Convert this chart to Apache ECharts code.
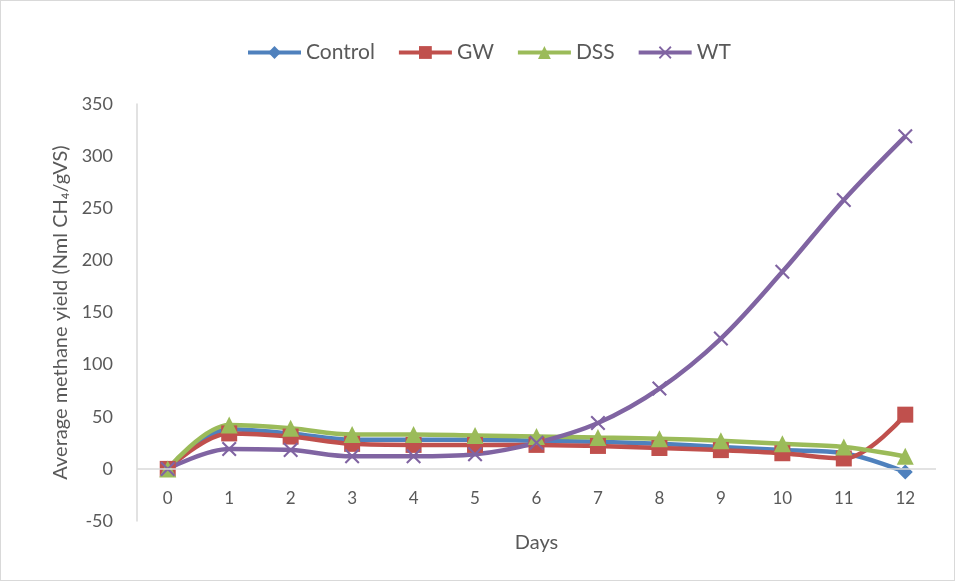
<!DOCTYPE html>
<html>
<head>
<meta charset="utf-8">
<script src="https://cdn.jsdelivr.net/npm/echarts@6/dist/echarts.min.js"></script>
<style>
  html, body { margin: 0; padding: 0; background: #fff; }
  #chart { width: 953px; height: 579px; border: 1px solid #d9d9d9; }
</style>
</head>
<body>
<div id="chart"></div>
<script>
// days on the x axis
const days = ['0', '1', '2', '3', '4', '5', '6', '7', '8', '9', '10', '11', '12'];

// average methane yield per treatment (Nml CH4/gVS)
const control = [0, 38, 34, 28, 28, 28, 27, 26, 24, 21, 18, 15, -3];
const gw      = [0, 34, 31, 24, 23, 23, 23, 22, 20, 18, 15, 10, 52];
const dss     = [0, 42, 39, 33, 33, 32, 31, 30, 29, 27, 24, 21, 12];
const wt      = [0, 19, 18, 12, 12, 14, 25, 44, 77, 125, 189, 258, 319];

const FONT = 'Lato';
const TXT = '#595959';
const AXIS = '#d9d9d9';
const CROSS = 'path://M0,1 L1,0 L5,4 L9,0 L10,1 L6,5 L10,9 L9,10 L5,6 L1,10 L0,9 L4,5 Z';

function line(name, data, color, symbol, size) {
  return {
    name: name,
    type: 'line',
    data: data,
    smooth: 0.35,
    symbol: symbol,
    symbolSize: size,
    showAllSymbol: true,
    lineStyle: { color: color, width: 4.5 },
    itemStyle: { color: color },
    z: 3
  };
}

const chart = echarts.init(document.getElementById('chart'));
chart.setOption({
  animation: false,
  textStyle: { fontFamily: FONT },
  legend: {
    top: 36,
    left: 240,
    itemWidth: 53,
    itemHeight: 16,
    itemGap: 22,
    lineStyle: { width: 4 },
    textStyle: { fontSize: 21, color: TXT, fontFamily: FONT },
    data: ['Control', 'GW', 'DSS', 'WT']
  },
  grid: { left: 136, right: 18, top: 103, bottom: 59, outerBoundsMode: 'none' },
  xAxis: {
    type: 'category',
    data: days,
    boundaryGap: true,
    name: 'Days',
    nameLocation: 'middle',
    nameGap: 12,
    nameTextStyle: { fontSize: 20, color: TXT },
    axisLine: { show: false, onZero: false },
    axisTick: { show: false },
    axisLabel: { fontSize: 17, color: TXT, margin: -31 }
  },
  yAxis: {
    type: 'value',
    min: -50,
    max: 350,
    interval: 50,
    name: 'Average methane yield (Nml CH\u2084/gVS)',
    nameLocation: 'middle',
    nameGap: 64,
    nameTextStyle: { fontSize: 20, color: TXT },
    axisLine: { show: true, lineStyle: { color: AXIS, width: 1.5 } },
    axisTick: { show: false },
    splitLine: { show: false },
    axisLabel: { fontSize: 18, color: TXT, margin: 24 }
  },
  series: [
    {
      // horizontal axis line drawn through zero
      type: 'line',
      data: [],
      z: 1,
      markLine: {
        silent: true,
        symbol: 'none',
        label: { show: false },
        lineStyle: { color: AXIS, width: 1.5, type: 'solid' },
        data: [{ yAxis: 0 }]
      }
    },
    line('Control', control, '#4F81BD', 'diamond', 15),
    line('GW', gw, '#C0504D', 'rect', 16),
    line('DSS', dss, '#9BBB59', 'triangle', 17),
    line('WT', wt, '#8064A2', CROSS, 15)
  ]
});
</script>
</body>
</html>
